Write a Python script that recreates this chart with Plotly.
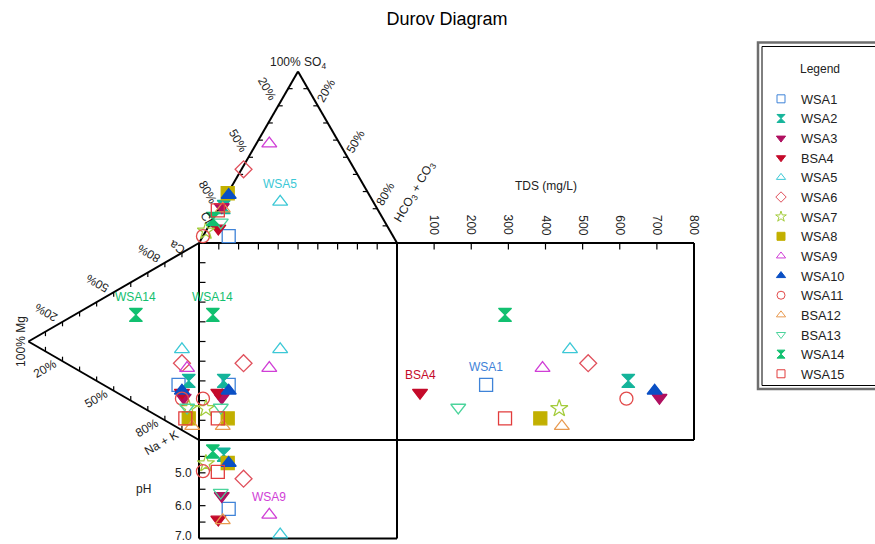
import math
import plotly.graph_objects as go

# ---- sample data -------------------------------------------------------
names = ["WSA1", "WSA2", "WSA3", "BSA4", "WSA5", "WSA6", "WSA7", "WSA8",
         "WSA9", "WSA10", "WSA11", "BSA12", "BSA13", "WSA14", "WSA15"]

# anions, % of meq
cl = [83, 77, 78, 86, 47, 56, 93, 71, 35.5, 71, 96, 78, 83, 86, 81]
so4 = [4, 21, 21, 8.5, 24, 43, 7, 29, 58, 28, 4, 20, 12, 14, 19]
hco3 = [13, 2, 1, 5.5, 29, 1, 0, 0, 6.5, 1, 0, 2, 5, 0, 0]

# cations, % of meq
ca = [22, 27, 17, 19, 41, 34, 13, 8, 33, 20, 16, 5, 13, 45, 7]
mg = [12, 6, 9, 10, 10, 10, 6, 6, 7, 10, 10, 4, 7, 37, 8]
nak = [66, 67, 74, 71, 49, 56, 81, 86, 60, 70, 74, 91, 80, 18, 85]

tds = [240, 623, 707, 62, 466, 515, 437, 386, 392, 694, 618, 444, 165, 291, 291]
ph = [6.1, 4.45, 5.7, 6.42, 6.88, 5.18, 4.72, 4.7, 6.28, 4.7, 4.95, 6.45, 5.6, 4.35, 4.97]

tds_ticks = [100, 200, 300, 400, 500, 600, 700, 800]
ph_ticks = [4.5, 5.0, 5.5, 6.0, 6.5]
ph_labels = [5.0, 6.0, 7.0]
pct_labels = [20, 50, 80]

colors = ["#3f83d8", "#14b49a", "#b01060", "#c40a2a", "#3cc8d6", "#e0505c",
          "#a4cc3c", "#c2b000", "#d03ed6", "#0a4fc4", "#e24a4a", "#e89a50",
          "#4cd49c", "#12c070", "#e23c3c"]
symbols = ["square-open", "hourglass", "triangle-down", "triangle-down",
           "triangle-up-open", "diamond-open", "star-open", "square",
           "triangle-up-open", "triangle-up", "circle-open", "triangle-up-open",
           "triangle-down-open", "hourglass", "square-open"]

# sample names written next to a point: (sample, panel)
point_labels = [("WSA5", "top"), ("WSA14", "left"), ("WSA14", "square"),
                ("BSA4", "tds"), ("WSA1", "tds"), ("WSA9", "ph")]

# ---- diagram geometry (central square is the unit square) --------------
W, H = 875, 544
SX, SY = 198.0, 197.0            # pixels per unit
X0, Y0 = 199.0, 440.0            # pixel position of square's lower-left corner
H_TOP = math.sqrt(3) / 2 * SX / SY
W_LEFT = math.sqrt(3) / 2 * SY / SX
TDS_MAX, TDS_LEN = 800.0, 1.5
PH_MIN, PH_MAX, PH_LEN = 4.0, 7.0, 0.5

FONT = "Arial, 'Liberation Sans', sans-serif"


def top_xy(c, s, h):
    tot = c + s + h
    return h / tot + s / tot / 2, 1 + s / tot * H_TOP


def left_xy(cc, m, n):
    tot = cc + m + n
    return -m / tot * W_LEFT, 1 - (n / tot + m / tot / 2)


def tds_x(v):
    return 1 + v / TDS_MAX * TDS_LEN


def ph_y(p):
    return -(p - PH_MIN) / (PH_MAX - PH_MIN) * PH_LEN


def dx(px):
    return px / SX


def dy(px):
    return px / SY


positions = {}
fig = go.Figure()
for i, nm in enumerate(names):
    tx, ty = top_xy(cl[i], so4[i], hco3[i])
    lx, ly = left_xy(ca[i], mg[i], nak[i])
    pts = {
        "top": (tx, ty),
        "left": (lx, ly),
        "square": (tx, ly),
        "tds": (tds_x(tds[i]), ly),
        "ph": (tx, ph_y(ph[i])),
    }
    positions[nm] = pts
    xs = [p[0] for p in pts.values()]
    ys = [p[1] for p in pts.values()]
    fig.add_trace(go.Scatter(
        x=xs, y=ys, mode="markers", name=nm, legendgroup=nm, showlegend=False,
        marker=dict(symbol=symbols[i], size=13, color=colors[i],
                    line=dict(color=colors[i], width=1.3)),
        hoverinfo="name",
    ))

# small keys for the legend
for i, nm in enumerate(names):
    fig.add_trace(go.Scatter(
        x=[None], y=[None], mode="markers", name=nm, legendgroup=nm,
        marker=dict(symbol=symbols[i], size=8, color=colors[i],
                    line=dict(color=colors[i], width=1)),
    ))

shapes = []
BLACK = dict(color="black", width=2)
TICK = dict(color="black", width=1.2)


def seg(x0, y0, x1, y1, line=BLACK):
    shapes.append(dict(type="line", xref="x", yref="y", x0=x0, y0=y0,
                       x1=x1, y1=y1, line=line, layer="below"))


# outlines
apex_top = (0.5, 1 + H_TOP)
apex_left = (-W_LEFT, 0.5)
seg(0, 1, *apex_top)
seg(*apex_top, 1, 1)
seg(0, 1, *apex_left)
seg(*apex_left, 0, 0)
seg(0, 0, 0, 1)
seg(0, 1, tds_x(TDS_MAX), 1)
seg(tds_x(TDS_MAX), 1, tds_x(TDS_MAX), 0)
seg(0, 0, tds_x(TDS_MAX), 0)
seg(1, 0, 1, 1)
seg(0, 0, 0, ph_y(PH_MAX))
seg(0, ph_y(PH_MAX), 1, ph_y(PH_MAX))
seg(1, 0, 1, ph_y(PH_MAX))

# ticks every 10 %
for k in range(1, 10):
    t = k / 10
    seg(t, 1, t, 1 - dy(6.5), TICK)                      # square top
    seg(0, t, dx(6.5), t, TICK)                          # square left
    seg(t / 2, 1 + t * H_TOP, t / 2 + dx(4.5), 1 + t * H_TOP, TICK)
    seg(1 - t / 2, 1 + t * H_TOP, 1 - t / 2 - dx(4.5), 1 + t * H_TOP, TICK)
    seg(-t * W_LEFT, 1 - t / 2, -t * W_LEFT, 1 - t / 2 - dy(4.5), TICK)
    seg(-t * W_LEFT, t / 2, -t * W_LEFT, t / 2 + dy(4.5), TICK)
for v in tds_ticks[:-1]:
    seg(tds_x(v), 1, tds_x(v), 1 - dy(6.5), TICK)
for p in ph_ticks:
    seg(0, ph_y(p), dx(6.5), ph_y(p), TICK)

# legend frame
def paper_rect(x0, y0, x1, y1, line):
    shapes.append(dict(type="rect", xref="paper", yref="paper",
                       x0=x0 / W, x1=x1 / W, y0=1 - y1 / H, y1=1 - y0 / H,
                       line=line, fillcolor="rgba(0,0,0,0)"))


paper_rect(758, 42.5, 900, 389, dict(color="#6e6e6e", width=2.5))
paper_rect(762, 46.5, 900, 385.5, dict(color="black", width=1))

annotations = []


def note(text, x, y, xs=0, ys=0, angle=0, size=12, color="#222",
         xanchor="center", yanchor="middle", xref="x", yref="y"):
    annotations.append(dict(text=text, x=x, y=y, xref=xref, yref=yref,
                            xshift=xs, yshift=ys, textangle=angle,
                            showarrow=False, xanchor=xanchor, yanchor=yanchor,
                            font=dict(family=FONT, size=size, color=color)))


# top triangle text
note("100% SO<sub>4</sub>", apex_top[0], apex_top[1], ys=9)
for p in pct_labels:
    t = p / 100
    note(f"{p}%", (1 - t) / 2, 1 + (1 - t) * H_TOP, xs=-11, ys=17, angle=60)
    note(f"{p}%", t + (1 - t) / 2, 1 + (1 - t) * H_TOP, xs=8, ys=15, angle=-60)
note("Cl", 0, 1, xs=7, ys=26, angle=60)
note("HCO<sub>3</sub> + CO<sub>3</sub>", 1, 1, xs=18, ys=51, angle=-60)

# left triangle text
for p in pct_labels:
    t = p / 100
    note(f"{p}%", -(1 - t) * W_LEFT, 1 - (1 - t) / 2, xs=-16, ys=9, angle=-150)
    note(f"{p}%", -(1 - t) * W_LEFT, (1 - t) / 2, xs=-18, ys=-8, angle=-30)
note("Ca", 0, 1, xs=-22, ys=-4, angle=-150)
note("Na + K", 0, 0, xs=-38, ys=-3, angle=-30)
note("100% Mg", apex_left[0], apex_left[1], xs=-8, angle=-90)

# TDS scale
for v in tds_ticks:
    note(str(v), tds_x(v), 1, ys=18, angle=90)
note("TDS (mg/L)", tds_x(400), 1, ys=57)

# pH scale
for p in ph_labels:
    shift = 3 if p == PH_MAX else 0
    note(f"{p:.1f}", 0, ph_y(p), xs=-5, ys=shift, xanchor="right")
note("pH", 0, ph_y(5.5), xs=-56)

# sample names beside points
for nm, panel in point_labels:
    i = names.index(nm)
    x, y = positions[nm][panel]
    note(nm, x, y, ys=18, color=colors[i])

note("Legend", 820 / W, 1 - 69 / H, xref="paper", yref="paper", size=12)

fig.update_layout(
    width=W, height=H,
    margin=dict(l=0, r=0, t=0, b=0),
    paper_bgcolor="white", plot_bgcolor="white",
    title=dict(text="Durov Diagram", x=447 / W, y=1 - 19 / H,
               xanchor="center", yanchor="middle",
               font=dict(family=FONT, size=18, color="black")),
    xaxis=dict(range=[-X0 / SX, (W - X0) / SX], visible=False, fixedrange=True),
    yaxis=dict(range=[(Y0 - H) / SY, Y0 / SY], visible=False, fixedrange=True),
    shapes=shapes,
    annotations=annotations,
    showlegend=True,
    legend=dict(x=761 / W, y=1 - 84 / H, xanchor="left", yanchor="top",
                bgcolor="rgba(0,0,0,0)", borderwidth=0,
                font=dict(family=FONT, size=12.8, color="#222"),
                itemwidth=30, tracegroupgap=0),
    font=dict(family=FONT),
)

fig.write_html("out.html")
